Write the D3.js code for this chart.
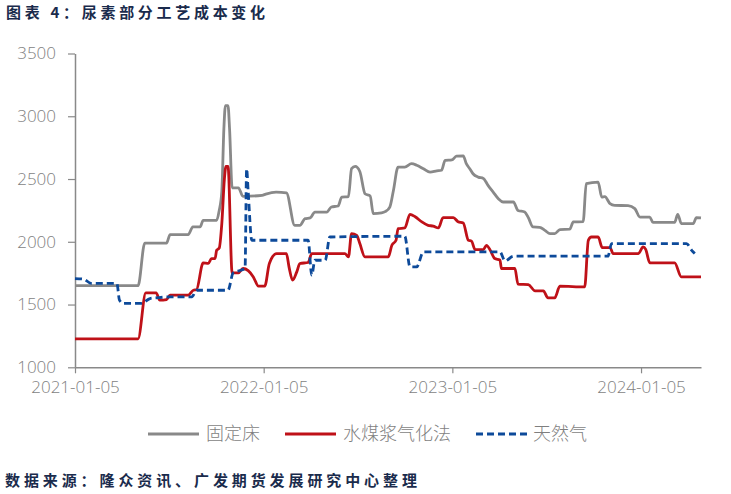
<!DOCTYPE html>
<html><head><meta charset="utf-8">
<script src="https://cdn.jsdelivr.net/npm/d3@7"></script>
<style>body{margin:0;background:#fff}</style>
</head><body>
<svg id="c" width="731" height="494"></svg>
<script>
const titleText = "图表 4：尿素部分工艺成本变化";
const sourceText = "数据来源：隆众资讯、广发期货发展研究中心整理";
const seriesNames = ["固定床", "水煤浆气化法", "天然气"];
const yTicks = [1000, 1500, 2000, 2500, 3000, 3500];
const xTickLabels = ["2021-01-05", "2022-01-05", "2023-01-05", "2024-01-05"];

const fixedBed = [["2021-01-05",1650],["2021-05-07",1650],["2021-05-20",1990],["2021-07-01",1990],["2021-07-08",2057],["2021-08-12",2057],["2021-08-21",2118],["2021-09-04",2118],["2021-09-10",2171],["2021-10-06",2171],["2021-10-11",2250],["2021-10-16",2400],["2021-10-20",2900],["2021-10-23",3085],["2021-10-28",3085],["2021-10-31",2900],["2021-11-05",2430],["2021-11-17",2430],["2021-11-26",2362],["2022-01-02",2370],["2022-01-09",2380],["2022-01-29",2396],["2022-02-18",2390],["2022-03-06",2131],["2022-03-16",2131],["2022-03-26",2184],["2022-04-05",2190],["2022-04-14",2237],["2022-05-07",2237],["2022-05-16",2277],["2022-05-29",2285],["2022-06-05",2356],["2022-06-18",2360],["2022-06-24",2582],["2022-07-01",2600],["2022-07-10",2560],["2022-07-20",2383],["2022-07-30",2365],["2022-08-05",2224],["2022-08-21",2230],["2022-08-28",2240],["2022-09-06",2277],["2022-09-13",2409],["2022-09-22",2595],["2022-10-05",2595],["2022-10-18",2622],["2022-10-28",2610],["2022-11-10",2582],["2022-11-23",2555],["2022-12-06",2565],["2022-12-15",2570],["2022-12-22",2648],["2023-01-04",2652],["2023-01-13",2682],["2023-01-26",2685],["2023-02-01",2622],["2023-02-08",2580],["2023-02-14",2542],["2023-02-24",2515],["2023-03-06",2505],["2023-03-15",2449],["2023-03-25",2396],["2023-04-04",2343],["2023-04-13",2317],["2023-05-03",2317],["2023-05-12",2250],["2023-05-25",2237],["2023-06-01",2192],["2023-06-10",2118],["2023-06-23",2115],["2023-07-03",2091],["2023-07-13",2065],["2023-07-22",2065],["2023-08-01",2097],["2023-08-20",2100],["2023-08-27",2158],["2023-09-15",2160],["2023-09-21",2463],["2023-10-14",2476],["2023-10-21",2356],["2023-10-27",2360],["2023-11-06",2304],["2023-11-15",2290],["2023-12-11",2288],["2023-12-24",2264],["2024-01-03",2197],["2024-01-22",2197],["2024-01-28",2155],["2024-03-10",2155],["2024-03-16",2219],["2024-03-23",2145],["2024-04-15",2145],["2024-04-21",2192],["2024-04-30",2190]];

const coalSlurry = [["2021-01-05",1227],["2021-05-07",1227],["2021-05-22",1593],["2021-06-11",1593],["2021-06-18",1535],["2021-07-01",1540],["2021-07-08",1575],["2021-08-12",1575],["2021-08-22",1614],["2021-08-28",1618],["2021-09-10",1832],["2021-09-20",1828],["2021-09-26",1866],["2021-10-03",1866],["2021-10-06",1932],["2021-10-11",1950],["2021-10-16",2145],["2021-10-21",2500],["2021-10-24",2600],["2021-10-28",2600],["2021-11-05",1752],["2021-11-17",1752],["2021-11-26",1787],["2021-12-06",1770],["2021-12-16",1720],["2021-12-26",1646],["2022-01-07",1646],["2022-01-16",1827],["2022-01-30",1906],["2022-02-18",1906],["2022-02-23",1800],["2022-03-02",1694],["2022-03-10",1760],["2022-03-16",1827],["2022-04-01",1835],["2022-04-08",1906],["2022-06-11",1906],["2022-06-18",1880],["2022-06-24",2065],["2022-07-04",2050],["2022-07-10",1986],["2022-07-20",1879],["2022-09-03",1879],["2022-09-10",1972],["2022-09-18",2012],["2022-09-22",2105],["2022-10-05",2110],["2022-10-15",2219],["2022-10-25",2200],["2022-11-07",2158],["2022-11-19",2131],["2022-11-29",2125],["2022-12-09",2110],["2022-12-18",2192],["2023-01-07",2192],["2023-01-16",2160],["2023-01-26",2150],["2023-02-05",2012],["2023-02-11",2005],["2023-02-18",1938],["2023-03-06",1938],["2023-03-12",1972],["2023-03-19",1935],["2023-03-28",1866],["2023-04-07",1855],["2023-04-10",1787],["2023-05-06",1787],["2023-05-12",1662],["2023-06-01",1658],["2023-06-14",1609],["2023-06-30",1609],["2023-07-09",1553],["2023-07-22",1553],["2023-08-01",1646],["2023-09-18",1641],["2023-09-25",2012],["2023-10-01",2038],["2023-10-14",2038],["2023-10-22",1954],["2023-11-06",1954],["2023-11-12",1906],["2023-12-31",1906],["2024-01-09",1959],["2024-01-14",1940],["2024-01-22",1832],["2024-03-10",1832],["2024-03-23",1720],["2024-04-30",1720]];

const naturalGas = [["2021-01-05",1707],["2021-01-21",1703],["2021-02-06",1668],["2021-03-27",1668],["2021-04-01",1535],["2021-04-08",1509],["2021-05-14",1509],["2021-05-30",1548],["2021-06-15",1555],["2021-07-08",1561],["2021-08-19",1561],["2021-08-28",1614],["2021-10-28",1614],["2021-11-07",1752],["2021-11-23",1775],["2021-11-30",1790],["2021-12-03",2582],["2021-12-06",2400],["2021-12-13",2012],["2022-04-01",2012],["2022-04-08",1734],["2022-04-14",1853],["2022-05-04",1853],["2022-05-13",2038],["2022-10-05",2044],["2022-10-15",1800],["2022-10-28",1800],["2022-11-10",1919],["2023-04-07",1919],["2023-04-17",1847],["2023-05-03",1885],["2023-11-02",1885],["2023-11-09",1986],["2024-04-02",1986],["2024-04-12",1932],["2024-04-18",1906]];

const colors = ["#898989", "#bf1118", "#0d4a9a"];
const parse = d3.timeParse("%Y-%m-%d");
const svg = d3.select("#c");

const x = d3.scaleTime().domain([parse("2021-01-05"), parse("2024-04-30")]).range([75, 701]);
const y = d3.scaleLinear().domain([1000, 3500]).range([367.3, 53.5]);

const axisColor = "#898989";
const tickFont = "'Open Sans','Noto Sans CJK SC',sans-serif";

// Y axis
const gy = svg.append("g").attr("transform", "translate(75,0)")
  .call(d3.axisLeft(y).tickValues(yTicks).tickSize(7).tickSizeOuter(0).tickPadding(12).tickFormat(d3.format("d")));
gy.select(".domain").attr("stroke", axisColor).attr("stroke-width", 1.5);
gy.selectAll(".tick line").attr("stroke", axisColor).attr("stroke-width", 1.2);
gy.selectAll(".tick text").attr("fill", "#7f7f7f").style("font-family", tickFont).style("font-size", "17px").style("font-weight", 300);

// X axis
const gx = svg.append("g").attr("transform", "translate(0,367.3)")
  .call(d3.axisBottom(x).tickValues(xTickLabels.map(parse)).tickSize(6).tickSizeOuter(0).tickPadding(8).tickFormat(d3.timeFormat("%Y-%m-%d")));
gx.select(".domain").attr("stroke", axisColor).attr("stroke-width", 1.5);
gx.selectAll(".tick line").attr("stroke", axisColor).attr("stroke-width", 1.2);
gx.selectAll(".tick text").attr("fill", "#7f7f7f").style("font-family", tickFont).style("font-size", "17px").style("font-weight", 300);

// Lines
const line = d3.line().x(d => x(parse(d[0]))).y(d => y(d[1])).curve(d3.curveMonotoneX);
const allSeries = [fixedBed, coalSlurry, naturalGas];
allSeries.forEach((s, i) => {
  svg.append("path").datum(s).attr("d", line)
    .attr("fill", "none").attr("stroke", colors[i]).attr("stroke-width", 2.8)
    .attr("stroke-linejoin", "round")
    .attr("stroke-dasharray", i === 2 ? "7,4" : null);
});

// Legend
const legendItems = [{x0:148, x1:199, tx:206}, {x0:285, x1:336, tx:343}, {x0:476, x1:528, tx:533}];
const lg = svg.append("g");
legendItems.forEach((it, i) => {
  lg.append("line").attr("x1", it.x0).attr("x2", it.x1).attr("y1", 434).attr("y2", 434)
    .attr("stroke", colors[i]).attr("stroke-width", 2.8).attr("stroke-dasharray", i === 2 ? "7,4" : null);
  lg.append("text").attr("x", it.tx).attr("y", 434).attr("dy", "0.35em")
    .attr("fill", "#7f7f7f").style("font-family", "'Noto Sans CJK SC',sans-serif")
    .style("font-size", "18px").style("font-weight", 300).text(seriesNames[i]);
});

// Title & source
svg.append("text").attr("x", 6).attr("y", 18).attr("fill", "#1a2b4c")
  .style("font-family", "'Noto Sans CJK SC',sans-serif").style("font-size", "15px").style("font-weight", 700)
  .style("letter-spacing", "3.7px").text(titleText);
svg.append("text").attr("x", 5).attr("y", 486).attr("fill", "#1a2b4c")
  .style("font-family", "'Noto Sans CJK SC',sans-serif").style("font-size", "15px").style("font-weight", 700)
  .style("letter-spacing", "3.9px").text(sourceText);
</script>
</body></html>
